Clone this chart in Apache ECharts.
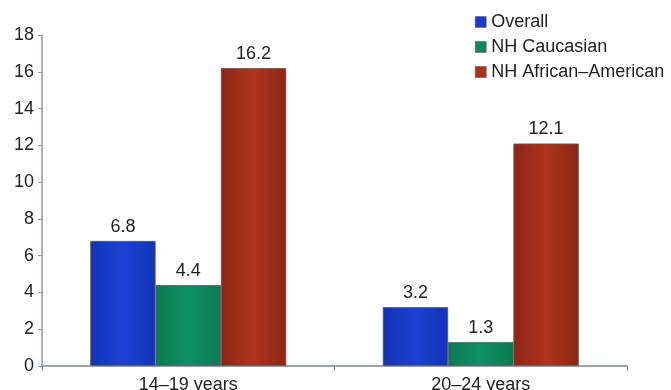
<!DOCTYPE html>
<html>
<head>
<meta charset="utf-8">
<script src="https://cdn.jsdelivr.net/npm/echarts@6/dist/echarts.min.js"></script>
<style>
  html, body { margin: 0; padding: 0; background: #fff; }
  #chart { width: 671px; height: 390px; }
</style>
</head>
<body>
<div id="chart"></div>
<script>
// Age groups and rates per group
const categories = ['14\u201319 years', '20\u201324 years'];
const overall = [6.8, 3.2];
const nhCaucasian = [4.4, 1.3];
const nhAfricanAmerican = [16.2, 12.1];
const seriesNames = ['Overall', 'NH Caucasian', 'NH African\u2013American'];

function barFill(edge, mid) {
  return new echarts.graphic.LinearGradient(0, 0, 1, 0, [
    { offset: 0, color: edge },
    { offset: 0.5, color: mid },
    { offset: 1, color: edge }
  ]);
}

const styles = [
  { edge: '#1233b8', mid: '#1d41d4', legend: '#1a3cc8' },
  { edge: '#0b7a50', mid: '#119066', legend: '#12865c' },
  { edge: '#8e2614', mid: '#ad341c', legend: '#a8321a' }
];

const dataSets = [overall, nhCaucasian, nhAfricanAmerican];

const chart = echarts.init(document.getElementById('chart'));
chart.setOption({
  animation: false,
  textStyle: { fontFamily: 'Liberation Sans, Arial, sans-serif' },
  legend: {
    orient: 'vertical',
    left: 470,
    top: 8,
    itemWidth: 11,
    itemHeight: 11,
    itemGap: 7,
    icon: 'rect',
    textStyle: { fontSize: 18, color: '#222' },
    data: seriesNames.map((n, i) => ({ name: n, itemStyle: { color: styles[i].legend, borderColor: '#555', borderWidth: 0.5 } }))
  },
  grid: { left: 42, right: 44, top: 35, bottom: 24, containLabel: false, outerBoundsMode: 'none' },
  xAxis: {
    type: 'category',
    data: categories,
    axisLine: { lineStyle: { color: '#7d8296', width: 1.5 } },
    axisTick: { show: true, length: 5, lineStyle: { color: '#7d8296' } },
    axisLabel: { fontSize: 18, color: '#222', margin: 10 }
  },
  yAxis: {
    type: 'value',
    min: 0,
    max: 18,
    interval: 2,
    splitLine: { show: false },
    axisLine: { show: true, lineStyle: { color: '#8f94b0', width: 1.5 } },
    axisTick: { show: true, length: 4, lineStyle: { color: '#8f94b0' } },
    axisLabel: { fontSize: 18, color: '#222', margin: 8 }
  },
  series: dataSets.map((d, i) => ({
    name: seriesNames[i],
    type: 'bar',
    data: d,
    barGap: '0%',
    barCategoryGap: '33%',
    itemStyle: {
      color: barFill(styles[i].edge, styles[i].mid),
      borderColor: '#5a5a5a',
      borderWidth: 0.8
    },
    label: {
      show: true,
      position: 'top',
      distance: 5,
      fontSize: 18,
      color: '#222'
    }
  }))
});
</script>
</body>
</html>
